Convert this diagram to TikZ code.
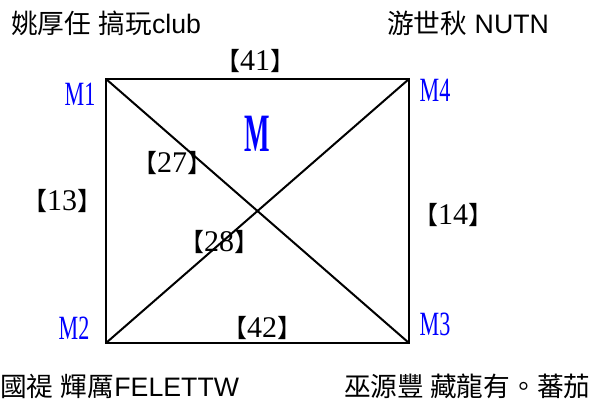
\documentclass[tikz,border=0pt]{standalone}
\usepackage{fontspec}
\usepackage{graphicx}
\setmainfont{Liberation Sans}
\newfontfamily\cjk{Noto Sans CJK TC}
\newfontfamily\serifnum{Liberation Serif}
\begin{document}
\begin{tikzpicture}[x=1pt,y=-1pt,
  txt/.style={anchor=base west,inner sep=0pt,font=\fontsize{26.7}{30}\selectfont},
  vlabel/.style={inner sep=0pt,text=blue,font=\serifnum\fontsize{34}{36}\selectfont},
  wlabel/.style={inner sep=0pt,font=\fontsize{25}{28}\selectfont},
  edge/.style={line width=2pt}]
\useasboundingbox (0,0) rectangle (596,403);
% corners
\coordinate (A) at (106,79);
\coordinate (B) at (409,79);
\coordinate (C) at (409,343);
\coordinate (D) at (106,343);
\draw[edge,line join=miter] (A) -- (B) -- (C) -- (D) -- cycle;
\draw[edge] (A) -- (C);
\draw[edge] (B) -- (D);
% people
\node[txt] (tl) at (11,34) {{\cjk 姚厚任} {\cjk 搞玩}club};
\node[txt] (tr) at (387,34) {{\cjk 游世秋} NUTN};
\node[txt] (bl) at (0,396) {{\cjk 國禔} {\cjk 輝厲}FELETTW};
\node[txt] (br) at (344,396) {\cjk 巫源豐 藏龍有。蕃茄};
% vertex labels
\node[vlabel] (m1) at (80,94) {\scalebox{0.65}[1]{M1}};
\node[vlabel] (m4) at (435,90) {\scalebox{0.65}[1]{M4}};
\node[vlabel] (m2) at (74,328) {\scalebox{0.65}[1]{M2}};
\node[vlabel] (m3) at (435,324) {\scalebox{0.65}[1]{M3}};
\node[inner sep=0pt,text=blue,font=\serifnum\bfseries\fontsize{54}{56}\selectfont] (mm) at (257.5,134) {\scalebox{0.5}[1]{M}};
% weights
\newcommand{\wt}[1]{{\cjk\fontsize{25}{28}\selectfont 【}{\serifnum\fontsize{30}{32}\selectfont #1}{\cjk\fontsize{25}{28}\selectfont 】}}
\node[wlabel] (w41) at (255,61) {\wt{41}};
\node[wlabel] (w13) at (62,201) {\wt{13}};
\node[wlabel] (w14) at (453,215) {\wt{14}};
\node[wlabel] (w27) at (172,163) {\wt{27}};
\node[wlabel] (w28) at (219,242) {\wt{28}};
\node[wlabel] (w42) at (262,328) {\wt{42}};
\end{tikzpicture}
\end{document}
